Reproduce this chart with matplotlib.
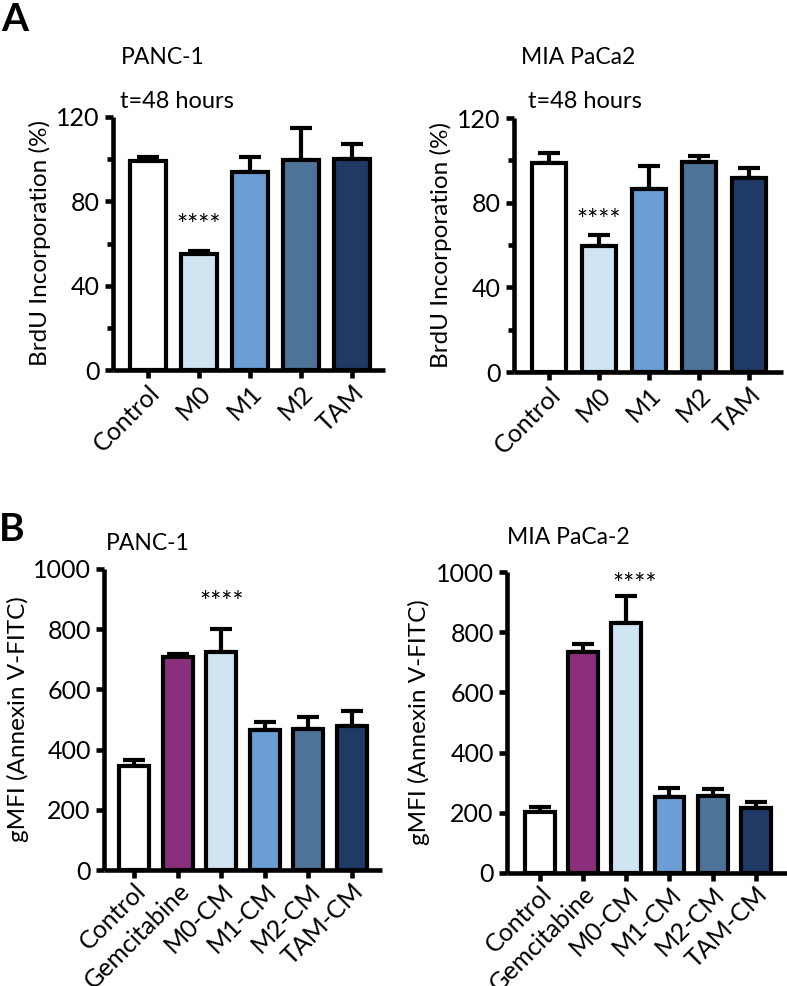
import matplotlib
matplotlib.use("Agg")
import matplotlib.pyplot as plt
from matplotlib.ticker import MultipleLocator

plt.rcParams['font.family'] = ['Lato', 'DejaVu Sans']

# ---- data ----
catA = ["Control", "M0", "M1", "M2", "TAM"]
panc_brdu = [99, 55, 94, 99.7, 100]
panc_brdu_err = [2, 1.6, 7, 15.3, 7]
mia_brdu = [98.7, 59.4, 86.6, 99.2, 91.7]
mia_brdu_err = [4.8, 5.5, 10.6, 3, 4.5]

catB = ["Control", "Gemcitabine", "M0-CM", "M1-CM", "M2-CM", "TAM-CM"]
panc_gmfi = [346, 706, 725, 466, 468, 477]
panc_gmfi_err = [18, 10, 77, 26, 41, 50]
mia_gmfi = [201, 733, 831, 254, 256, 215]
mia_gmfi_err = [18, 27, 88, 28, 22, 21]

colA = ["#ffffff", "#d0e3f1", "#6b9fd3", "#4e7399", "#1f3a65"]
colB = ["#ffffff", "#8b2f7c", "#d0e3f1", "#6b9fd3", "#4e7399", "#1f3a65"]

W, H = 787, 986
fig = plt.figure(figsize=(W / 100, H / 100), dpi=100)


def px_axes(x0, x1, ytop, ybot):
    return fig.add_axes([x0 / W, 1 - ybot / H, (x1 - x0) / W, (ybot - ytop) / H])


def style(ax, xpad=2):
    for s in ["top", "right"]:
        ax.spines[s].set_visible(False)
    for s in ["left", "bottom"]:
        ax.spines[s].set_linewidth(3.3)
        ax.spines[s].set_capstyle("butt")
    ax.tick_params(axis="both", which="major", width=3.3, length=6, labelsize=18)
    ax.tick_params(axis="y", which="minor", width=3.3, length=4)
    ax.tick_params(axis="x", pad=xpad)


def bars(ax, cats, vals, errs, cols, width=0.69, xfs=18):
    x = list(range(len(cats)))
    ax.bar(x, vals, width=width, color=cols, edgecolor="black", linewidth=3, zorder=3)
    ax.errorbar(x, vals, yerr=[[0] * len(errs), errs], fmt="none", ecolor="black",
                elinewidth=3, capsize=8, capthick=3, zorder=2)
    ax.set_xticks(x)
    ax.set_xticklabels(cats, rotation=45, ha="right", rotation_mode="anchor", fontsize=xfs)


# Panel A left
ax1 = px_axes(113, 385, 117, 370)
bars(ax1, catA, panc_brdu, panc_brdu_err, colA)
ax1.set_xlim(-0.686, 4.647)
ax1.set_ylim(0, 120)
ax1.set_yticks([0, 40, 80, 120])
ax1.yaxis.set_minor_locator(MultipleLocator(20))
style(ax1)
ax1.set_ylabel("BrdU Incorporation (%)", fontsize=17.5, labelpad=4)
ax1.text(1, 68, "****", ha="center", va="center", fontsize=19)

# Panel A right
ax2 = px_axes(514, 783, 118, 372)
bars(ax2, catA, mia_brdu, mia_brdu_err, colA)
ax2.set_xlim(-0.7, 4.68)
ax2.set_ylim(0, 120)
ax2.set_yticks([0, 40, 80, 120])
ax2.yaxis.set_minor_locator(MultipleLocator(20))
style(ax2)
ax2.set_ylabel("BrdU Incorporation (%)", fontsize=17.5, labelpad=4)
ax2.text(1, 71, "****", ha="center", va="center", fontsize=19)

# Panel B left
ax3 = px_axes(104, 382, 569, 870)
bars(ax3, catB, panc_gmfi, panc_gmfi_err, colB, xfs=16)
ax3.set_xlim(-0.69, 5.69)
ax3.set_ylim(0, 1000)
ax3.set_yticks([0, 200, 400, 600, 800, 1000])
style(ax3, xpad=0.5)
ax3.set_ylabel("gMFI (Annexin V-FITC)", fontsize=17.5, labelpad=3)
ax3.text(2, 887, "****", ha="center", va="center", fontsize=19)

# Panel B right
ax4 = px_axes(507, 787, 572, 873)
bars(ax4, catB, mia_gmfi, mia_gmfi_err, colB, xfs=16)
ax4.set_xlim(-0.76, 5.72)
ax4.set_ylim(0, 1000)
ax4.set_yticks([0, 200, 400, 600, 800, 1000])
style(ax4, xpad=0.5)
ax4.set_ylabel("gMFI (Annexin V-FITC)", fontsize=17.5, labelpad=4)
ax4.text(2.2, 956, "****", ha="center", va="center", fontsize=19)

# Titles and panel letters (figure pixel positions)
def ftext(x, y, s, **kw):
    fig.text(x / W, 1 - y / H, s, **kw)

ftext(163, 58, "PANC-1", ha="center", va="center", fontsize=16.5)
ftext(177, 101, "t=48 hours", ha="center", va="center", fontsize=17)
ftext(578, 58, "MIA PaCa2", ha="center", va="center", fontsize=16.5)
ftext(585, 102, "t=48 hours", ha="center", va="center", fontsize=17)
ftext(148, 543, "PANC-1", ha="center", va="center", fontsize=16.5)
ftext(568, 537, "MIA PaCa-2", ha="center", va="center", fontsize=16.5)
ftext(1, 2, "A", ha="left", va="top", fontsize=28, fontweight="bold")
ftext(-1, 512, "B", ha="left", va="top", fontsize=28, fontweight="bold")

fig.savefig("out.png", dpi=100, facecolor="white")
